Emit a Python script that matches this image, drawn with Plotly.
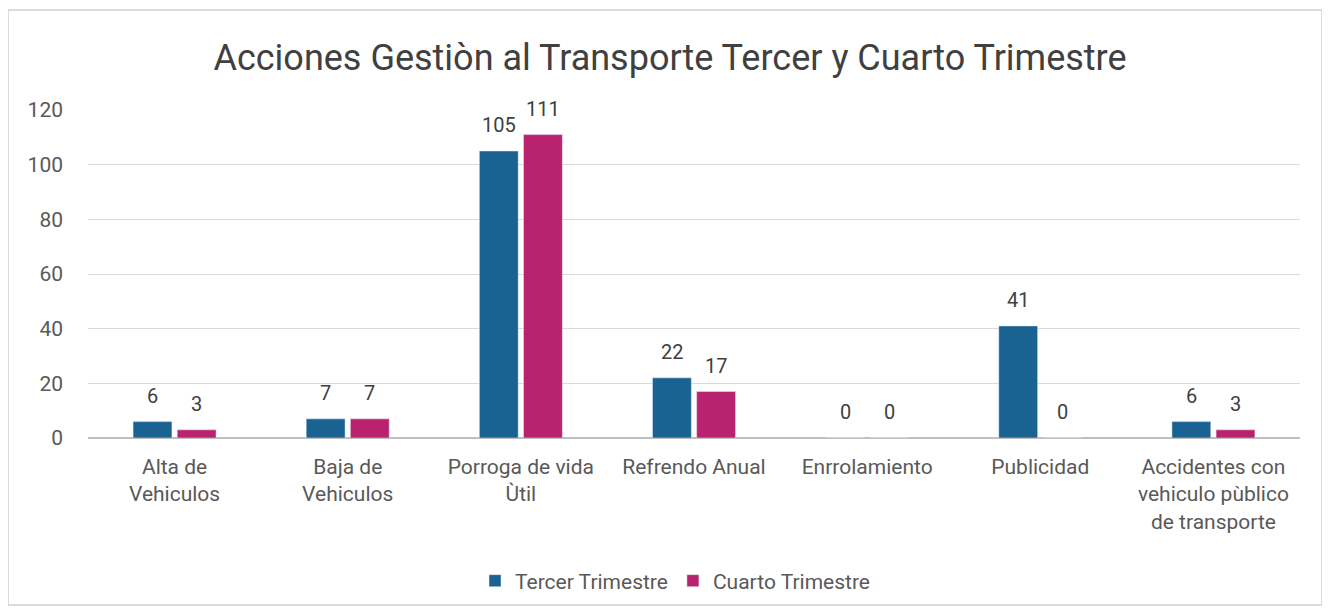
import plotly.graph_objects as go

categories = ["Alta de<br>Vehiculos", "Baja de<br>Vehiculos", "Porroga de vida<br>Ùtil",
              "Refrendo Anual", "Enrrolamiento", "Publicidad",
              "Accidentes con<br>vehiculo pùblico<br>de transporte"]
tercer = [6, 7, 105, 22, 0, 41, 6]
cuarto = [3, 7, 111, 17, 0, 0, 3]
y_ticks = [0, 20, 40, 60, 80, 100, 120]

FONT = "Roboto"
W, H = 1330, 616
OFF = 8  # page body offset
L, R, T, B = 88 - OFF, W - (1300 - OFF), 110 - OFF, H - (438 - OFF)
pw, ph = W - L - R, H - T - B

BLUE, PINK = "#1A6291", "#B8226F"
fig = go.Figure()
fig.add_trace(go.Bar(name="Tercer Trimestre", x=categories, y=tercer, marker_color=BLUE))
fig.add_trace(go.Bar(name="Cuarto Trimestre", x=categories, y=cuarto, marker_color=PINK))

# data labels above each bar (grouped bars sit about 22px either side of the category centre)
slot = pw / len(categories) * (1 - 0.49) / 2
annotations = []
for series, shift in ((tercer, -slot / 2), (cuarto, slot / 2)):
    for cat, v in zip(categories, series):
        annotations.append(dict(x=cat, y=v, text=str(v), showarrow=False, xref="x", yref="y",
                                xshift=shift, yshift=26, yanchor="middle",
                                font=dict(size=20, color="#404040", family=FONT)))

fig.update_layout(
    width=W, height=H,
    margin=dict(l=L, r=R, t=T, b=B),
    paper_bgcolor="white", plot_bgcolor="white",
    barmode="group", bargap=0.49, bargroupgap=0.12,
    title=dict(text="Acciones Gestiòn al Transporte Tercer y Cuarto Trimestre",
               x=(670 - OFF) / W, xanchor="center", y=1 - (57 - OFF) / H, yanchor="middle",
               font=dict(size=36, color="#404040", family=FONT)),
    font=dict(family=FONT, color="#595959", size=21),
    legend=dict(orientation="h", x=(675 - OFF - L) / pw, xanchor="center",
                y=(438 - 581) / ph, yanchor="middle",
                font=dict(size=21, color="#595959", family=FONT), traceorder="normal"),
    xaxis=dict(showgrid=False, showline=False, ticks="", tickfont=dict(size=21, color="#595959"),
               ticklabelstandoff=14),
    yaxis=dict(range=[0, 120], tickvals=y_ticks, showgrid=True, gridcolor="#D9D9D9",
               gridwidth=1, zeroline=True, zerolinecolor="#BFBFBF", showline=False,
               tickfont=dict(size=21, color="#595959"), ticklabelstandoff=24),
    annotations=annotations,
    shapes=[dict(type="rect", xref="paper", yref="paper",
                 x0=(8 - OFF - L) / pw, x1=(1322 - OFF - L) / pw,
                 y0=(438 - 605) / ph, y1=(438 - 10) / ph,
                 line=dict(color="#D0D0D0", width=1.5), fillcolor="rgba(0,0,0,0)", layer="below")],
)

fig.write_html("out.html")
